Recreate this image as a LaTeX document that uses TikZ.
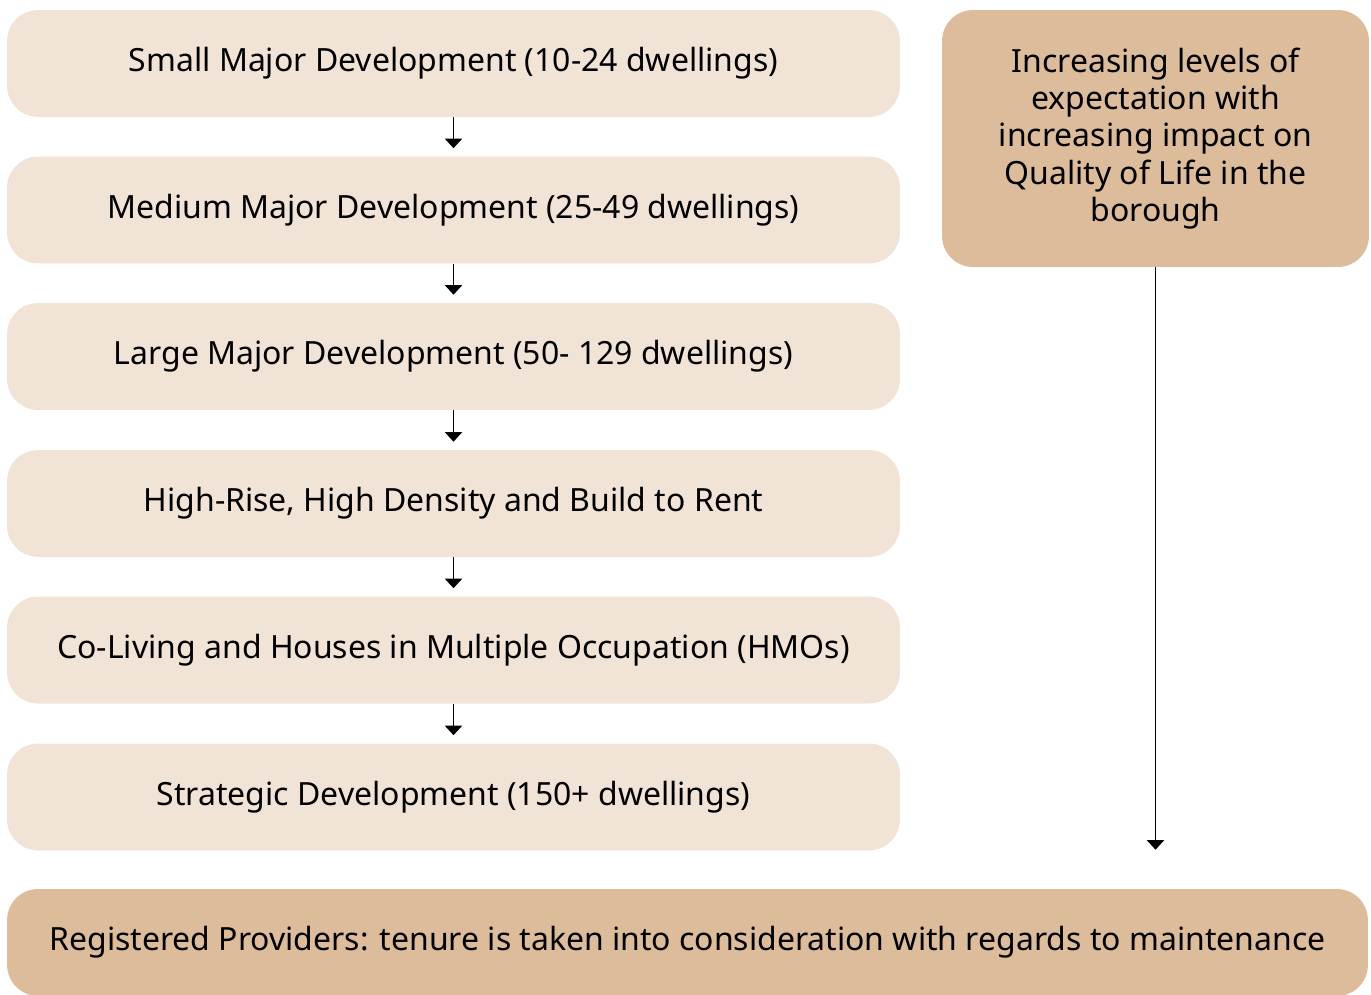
\documentclass[tikz,border=0pt]{standalone}
\usepackage{fontspec}
\setmainfont{Noto Sans}
\usepackage{tikz}
\usetikzlibrary{arrows.meta}

\definecolor{paleTan}{HTML}{F1E4D7}
\definecolor{deepTan}{HTML}{DCBC9B}

\tikzset{
    stage/.style={rounded corners=0.62cm, fill=paleTan, minimum width=17.86cm, minimum height=2.14cm, font=\fontsize{18.2}{21}\selectfont},
    note/.style={rounded corners=0.62cm, fill=deepTan, minimum width=8.54cm, minimum height=5.14cm, align=center, font=\fontsize{18.2}{21.3}\selectfont},
    flow/.style={-{Triangle[width=10pt, length=5.5pt]}, line width=0.6pt}
}

\begin{document}
\begin{tikzpicture}[x=0.02cm, y=-0.02cm]
        \useasboundingbox (0, 0) rectangle (1371, 994);

        \node[stage] (small) at (453.5, 63.5) {Small Major Development (10-24 dwellings)};
        \node[stage] (medium) at (453.5, 210) {Medium Major Development (25-49 dwellings)};
        \node[stage] (large) at (453.5, 356.5) {Large Major Development (50- 129 dwellings)};
        \node[stage] (highrise) at (453.5, 503.5) {High-Rise, High Density and Build to Rent};
        \node[stage] (coliving) at (453.5, 650) {Co-Living and Houses in Multiple Occupation (HMOs)};
        \node[stage] (strategic) at (453.5, 797) {Strategic Development (150+ dwellings)};

        \node[note] (expect) at (1155.5, 138.5) {Increasing levels of\\expectation with\\increasing impact on\\Quality of Life in the\\borough};
        \node[note, minimum width=27.22cm, minimum height=2.14cm] (providers) at (687.5, 942.5) {Registered Providers: tenure is taken into consideration with regards to maintenance};

        \draw[flow, shorten >=0.16cm] (small) -- (medium);
        \draw[flow, shorten >=0.16cm] (medium) -- (large);
        \draw[flow, shorten >=0.16cm] (large) -- (highrise);
        \draw[flow, shorten >=0.16cm] (highrise) -- (coliving);
        \draw[flow, shorten >=0.16cm] (coliving) -- (strategic);
        \draw[flow, shorten >=0.78cm] (expect.south) -- (expect.south |- providers.north);
    \end{tikzpicture}
\end{document}
